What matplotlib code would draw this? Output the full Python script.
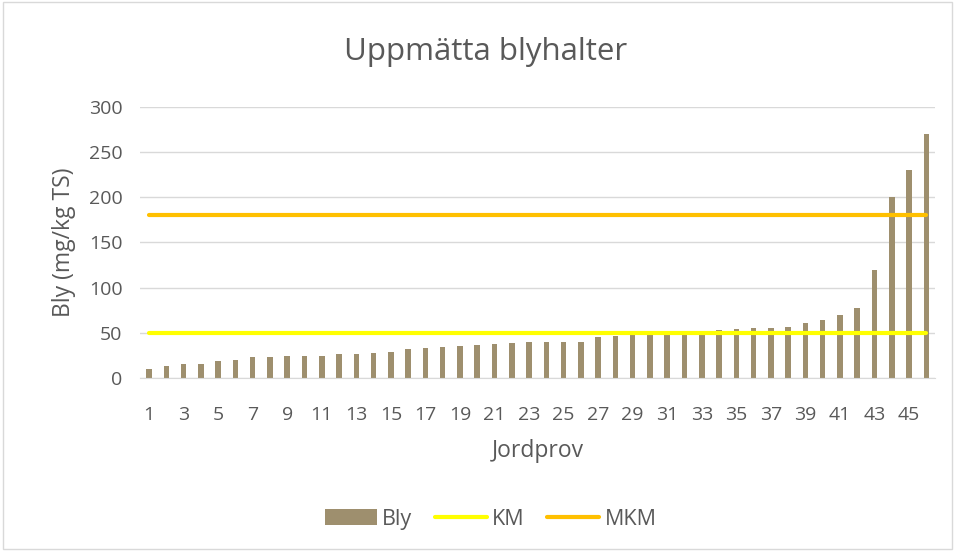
import matplotlib.pyplot as plt
from matplotlib.patches import Rectangle

plt.rcParams["font.family"] = ["Open Sans", "DejaVu Sans"]

# Data
prov = list(range(1, 47))
bly = [10, 13, 15, 16, 19, 20, 23, 23, 24, 24,
       24, 26, 27, 28, 29, 32, 33, 34, 35, 37,
       38, 39, 40, 40, 40, 40, 45, 46, 48, 49,
       49, 50, 50, 53, 54, 55, 55, 56, 61, 64,
       70, 77, 120, 200, 230, 270]
km = [50] * len(prov)
mkm = [180] * len(prov)
yticks = [0, 50, 100, 150, 200, 250, 300]

grey = "#595959"
bar_color = "#9E8F6E"

fig = plt.figure(figsize=(9.55, 5.51), dpi=100)
ax = fig.add_axes([0.147, 0.314, 0.832, 0.492])

bars = ax.bar(prov, bly, width=0.32, color=bar_color, label="Bly", zorder=2)
l1, = ax.plot(prov, km, color="#FFFF00", lw=3, label="KM", zorder=3,
              solid_capstyle="round")
l2, = ax.plot(prov, mkm, color="#FFC000", lw=3, label="MKM", zorder=3,
              solid_capstyle="round")

ax.set_xlim(0.5, 46.5)
ax.set_ylim(0, 300)
ax.set_yticks(yticks)
ax.set_xticks(prov[::2])
ax.grid(axis="y", color="#D9D9D9", lw=1, zorder=0)
for s in ["top", "right", "left"]:
    ax.spines[s].set_visible(False)
ax.spines["bottom"].set_color("#D9D9D9")
ax.tick_params(axis="x", length=0, labelsize=14, colors=grey, pad=20)
ax.tick_params(axis="y", length=0, labelsize=14, colors=grey, pad=13)

fig.text(0.508, 0.905, "Uppmätta blyhalter", fontsize=22.5, color=grey,
         ha="center", va="center")
ax.set_xlabel("Jordprov", fontsize=16.5, color=grey, labelpad=11)
ax.set_ylabel("Bly (mg/kg TS)", fontsize=16.5, color=grey, labelpad=9)

leg = fig.legend([bars, l1, l2], ["Bly", "KM", "MKM"], loc="center",
                 bbox_to_anchor=(0.514, 0.058), ncol=3, frameon=False,
                 fontsize=15.5, labelcolor=grey, handlelength=2.4,
                 columnspacing=1.05, handletextpad=0.25)

fig.patches.append(Rectangle((0.003, 0.004), 0.994, 0.992,
                             transform=fig.transFigure, fill=False,
                             edgecolor="#D9D9D9", lw=1))

fig.savefig("out.png", dpi=100)
